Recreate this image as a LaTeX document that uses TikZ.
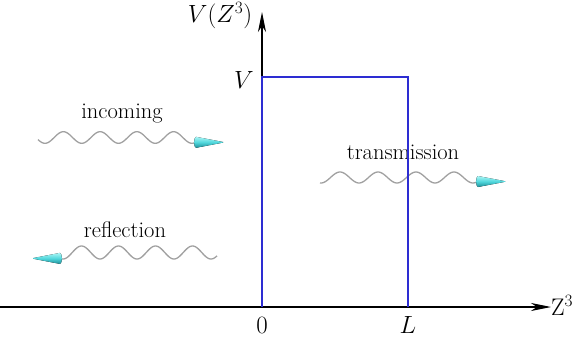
\documentclass[tikz,border=0pt]{standalone}
\usepackage{fontspec}
\usetikzlibrary{arrows.meta}
\definecolor{potblue}{RGB}{45,45,210}
\definecolor{wavegray}{RGB}{160,160,160}
\definecolor{conelight}{RGB}{170,245,245}
\definecolor{conemid}{RGB}{80,215,220}
\definecolor{conedark}{RGB}{30,140,150}
\begin{document}
\begin{tikzpicture}[x=1pt,y=-1pt,
  axisline/.style={line width=1.2pt,-{Stealth[length=20pt,width=8pt,inset=6pt]}},
  wave/.style={draw=wavegray,line width=1.3pt},
  wordlbl/.style={font=\fontsize{22.5}{27}\selectfont,inner sep=0pt,anchor=base},
  mathlbl/.style={font=\fontsize{24}{28}\selectfont,inner sep=0pt},
  pics/conetip/.style={code={
    \fill[top color=conelight,bottom color=conedark,middle color=conemid]
      (0,-5.5) .. controls (-2.5,-5.5) and (-2.5,5.5) .. (0,5.5) -- (27,0.3) -- (27,-0.3) -- cycle;
  }}]
\useasboundingbox (0,0) rectangle (579,337);
% axes
\coordinate (xstart) at (0,307);
\coordinate (O) at (262,307);
\coordinate (xend) at (551,307);
\coordinate (yend) at (262,12);
\draw[axisline] (xstart) -- (xend);
\draw[axisline] (O) -- (yend);
% potential barrier
\coordinate (TL) at (262,77);
\coordinate (TR) at (408,77);
\coordinate (BR) at (408,307);
\draw[potblue,line width=1.2pt] (O) -- (TL) -- (TR) -- (BR);
% axis labels
\node[mathlbl,font=\fontsize{25}{29}\selectfont] (vz) at (220,16) {$V(Z^{3})$};
\node[mathlbl] (vlbl) at (244,80) {$V$};
\node[mathlbl] (zero) at (262,325) {$0$};
\node[mathlbl] (llbl) at (408,325) {$L$};
\node[mathlbl,anchor=west] (zlbl) at (551,305) {$\mathrm{Z}^{3}$};
% incoming
\node[wordlbl] (inc) at (122,118) {incoming};
\draw[wave] plot[domain=38:196,samples=150] (\x,{137.5+5.8*cos((\x-45)*9.796)});
\pic at (196,142.3) {conetip};
% reflection
\node[wordlbl] (refl) at (125,237) {reflection};
\draw[wave] plot[domain=60:217,samples=150] (\x,{252.5+6.5*cos((\x-63)*9.730)});
\pic[xscale=-1] at (60,258.4) {conetip};
% transmission
\node[wordlbl] (trans) at (403,160) {transmission};
\draw[wave] plot[domain=320:478,samples=150] (\x,{177.5+5.5*cos((\x-321)*9.474)});
\pic at (478,181.5) {conetip};
% redraw barrier edge over wave
\draw[potblue,line width=1.2pt] (TR) -- (BR);
\end{tikzpicture}
\end{document}
